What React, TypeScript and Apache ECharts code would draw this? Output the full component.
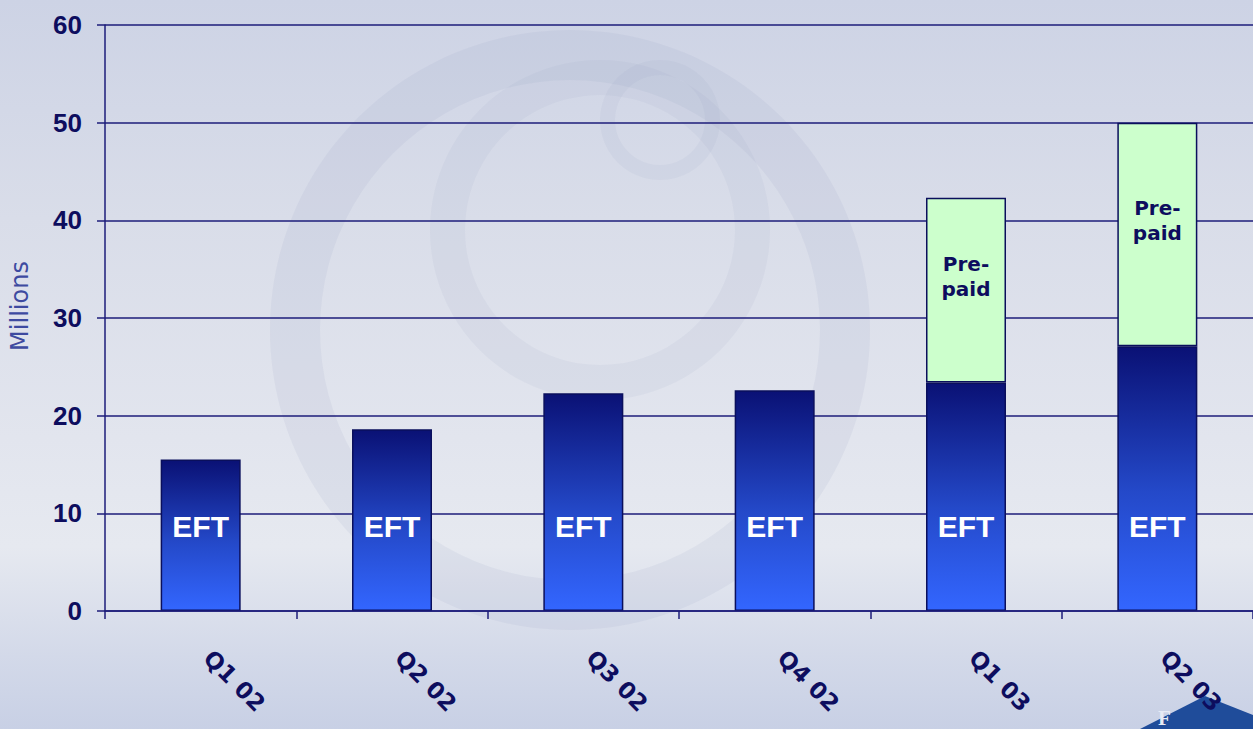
import React, { useEffect, useRef } from "react";
import * as echarts from "echarts";

const categories = ["Q1 02", "Q2 02", "Q3 02", "Q4 02", "Q1 03", "Q2 03"];
const eftValues = [15.5, 18.6, 22.3, 22.6, 23.4, 27.1];
const prepaidValues: (number | string)[] = ["-", "-", "-", "-", 18.9, 22.9];
const yTicks = { min: 0, max: 60, interval: 10 };
const yAxisName = "Millions";
const eftLabel = "EFT";
const prepaidLabel = "Pre-\npaid";

const NAVY = "#0d0d5e";
const GRID = "#1c1c7a";

export default function App() {
  const ref = useRef<HTMLDivElement>(null);
  useEffect(() => {
    if (!ref.current) return;
    const chart = echarts.init(ref.current, null, { renderer: "svg" });
    chart.setOption({
      animation: false,
      backgroundColor: "transparent",
      graphic: [
        {
          type: "ring",
          shape: { cx: 570, cy: 330, r: 300, r0: 250 },
          style: { fill: "rgba(140,150,190,0.10)" },
          z: -10,
          silent: true,
        },
        {
          type: "ring",
          shape: { cx: 600, cy: 230, r: 170, r0: 135 },
          style: { fill: "rgba(140,150,190,0.09)" },
          z: -10,
          silent: true,
        },
        {
          type: "ring",
          shape: { cx: 660, cy: 120, r: 60, r0: 45 },
          style: { fill: "rgba(140,150,190,0.09)" },
          z: -10,
          silent: true,
        },
        {
          type: "polygon",
          shape: { points: [[1140, 729], [1205, 696], [1253, 715], [1253, 729]] },
          style: { fill: "#1f4c9a" },
          z: -5,
          silent: true,
        },
        {
          type: "text",
          x: 1158,
          y: 707,
          style: { text: "F", fill: "#e8ecf5", font: "bold 21px 'Liberation Serif'" },
          z: -4,
          silent: true,
        },
      ],
      grid: { left: 105, top: 25, right: -4, bottom: 118, containLabel: false },
      xAxis: {
        type: "category",
        data: categories,
        boundaryGap: true,
        axisLine: { show: true, lineStyle: { color: GRID, width: 1.5 } },
        axisTick: { show: true, length: 8, lineStyle: { color: GRID, width: 1.5 } },
        axisLabel: {
          rotate: -45,
          margin: 36,
          padding: [0, 0, 0, 10],
          color: NAVY,
          fontSize: 23,
          fontWeight: "bold",
          fontFamily: "DejaVu Sans",
        },
        z: 5,
      },
      yAxis: {
        type: "value",
        min: yTicks.min,
        max: yTicks.max,
        interval: yTicks.interval,
        name: yAxisName,
        nameLocation: "middle",
        nameGap: 73,
        nameRotate: 90,
        nameTextStyle: {
          color: "#3d4aa0",
          fontSize: 24,
          fontFamily: "DejaVu Sans",
          padding: [0, 0, 0, 24],
        },
        axisLine: { show: true, lineStyle: { color: GRID, width: 1.5 } },
        axisTick: { show: true, length: 8, lineStyle: { color: GRID, width: 1.5 } },
        axisLabel: {
          margin: 23,
          color: NAVY,
          fontSize: 26,
          fontWeight: "bold",
          fontFamily: "Liberation Sans",
        },
        splitLine: { show: true, lineStyle: { color: GRID, width: 1.5 } },
      },
      series: [
        {
          name: "EFT",
          type: "bar",
          stack: "total",
          data: eftValues,
          barWidth: 80,
          itemStyle: {
            color: new echarts.graphic.LinearGradient(0, 0, 0, 1, [
              { offset: 0, color: "#0a1175" },
              { offset: 0.55, color: "#2449c9" },
              { offset: 1, color: "#3366ff" },
            ]),
            borderColor: "#0a0f5c",
            borderWidth: 1.5,
          },
          label: {
            show: true,
            position: "insideBottom",
            distance: 70,
            formatter: eftLabel,
            color: "#ffffff",
            fontSize: 30,
            fontWeight: "bold",
            fontFamily: "Liberation Sans",
          },
          z: 3,
        },
        {
          name: "Prepaid",
          type: "bar",
          stack: "total",
          data: prepaidValues,
          barWidth: 80,
          itemStyle: { color: "#ccffcc", borderColor: "#0a0f5c", borderWidth: 1.5 },
          label: {
            show: true,
            position: "inside",
            offset: [0, -14],
            formatter: prepaidLabel,
            color: NAVY,
            fontSize: 20,
            lineHeight: 25,
            fontWeight: "bold",
            fontFamily: "DejaVu Sans",
          },
          z: 3,
        },
      ],
    });
    return () => chart.dispose();
  }, []);
  return (
    <div
      ref={ref}
      style={{
        position: "fixed",
        left: 0,
        top: 0,
        width: 1253,
        height: 729,
        background:
          "linear-gradient(180deg, #cdd3e5 0%, #d9dde9 30%, #e2e5ee 60%, #e6e9f0 75%, #d3d9e9 90%, #c8d0e5 100%)",
      }}
    />
  );
}
